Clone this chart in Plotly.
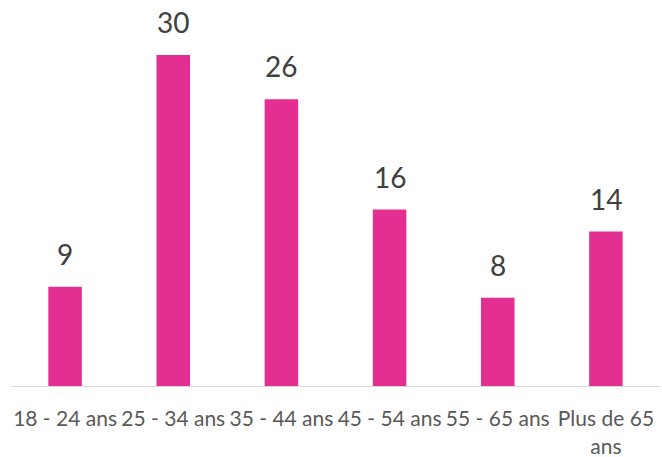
import plotly.graph_objects as go

categories = ["18 - 24 ans", "25 - 34 ans", "35 - 44 ans", "45 - 54 ans", "55 - 65 ans", "Plus de 65<br>ans"]
values = [9, 30, 26, 16, 8, 14]

fig = go.Figure()
fig.add_trace(go.Bar(
    x=categories, y=values,
    marker=dict(color="#E32E92", line=dict(width=0)),
    width=0.31,
))
for c, v in zip(categories, values):
    fig.add_annotation(x=c, y=v, text=str(v), showarrow=False, yanchor="bottom", yshift=14,
                       font=dict(family="Lato", size=28, color="#404040"))

fig.update_layout(
    width=662, height=457,
    margin=dict(l=11, r=2, t=33, b=71),
    paper_bgcolor="white", plot_bgcolor="white",
    showlegend=False,
    xaxis=dict(showline=True, linecolor="#D9D9D9", linewidth=1, tickangle=0,
               tickfont=dict(family="Lato", size=21, color="#595959"),
               ticks="", showgrid=False, automargin=False, ticklabelstandoff=14),
    yaxis=dict(range=[0, 32], visible=False, showgrid=False),
)
fig.write_html("out.html", config={"displayModeBar": False},
               post_script="document.body.style.margin='0';document.body.style.overflow='hidden';")
